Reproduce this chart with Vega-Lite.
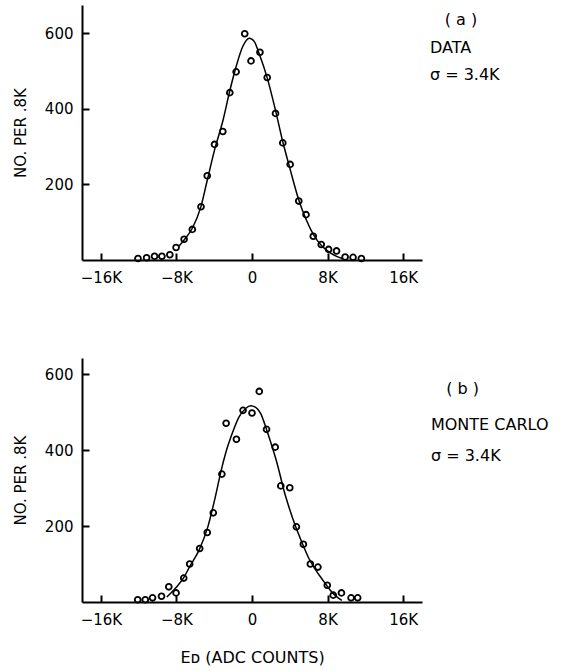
{
  "$schema": "https://vega.github.io/schema/vega-lite/v6.json",
  "background": "white",
  "padding": {"left": 13, "top": 5, "right": 2, "bottom": 5},
  "bounds": "flush",
  "spacing": 98,
  "config": {
    "font": "DejaVu Sans",
    "view": {"stroke": null},
    "axis": {
      "grid": false,
      "domainColor": "black",
      "domainWidth": 2,
      "tickColor": "black",
      "tickWidth": 2,
      "tickSize": -7,
      "labelColor": "black",
      "labelFontSize": 15,
      "labelFont": "DejaVu Sans",
      "titleColor": "black",
      "titleFontSize": 15,
      "titleFont": "DejaVu Sans",
      "titleFontWeight": "normal",
      "labelFlush": false,
      "labelOverlap": false
    },
    "axisX": {"labelPadding": 17},
    "axisY": {"labelPadding": 16, "titlePadding": 16}
  },
  "datasets": {
    "a_pts": [
      {"x": -12070, "y": 4}, {"x": -11160, "y": 6}, {"x": -10320, "y": 10}, {"x": -9540, "y": 10},
      {"x": -8700, "y": 14}, {"x": -8040, "y": 33}, {"x": -7190, "y": 55}, {"x": -6320, "y": 81},
      {"x": -5400, "y": 141}, {"x": -4740, "y": 223}, {"x": -3970, "y": 306}, {"x": -3090, "y": 340},
      {"x": -2350, "y": 443}, {"x": -1680, "y": 498}, {"x": -770, "y": 599}, {"x": -105, "y": 527},
      {"x": 840, "y": 550}, {"x": 1610, "y": 483}, {"x": 2490, "y": 388}, {"x": 3260, "y": 310},
      {"x": 4040, "y": 253}, {"x": 4950, "y": 156}, {"x": 5720, "y": 120}, {"x": 6490, "y": 63},
      {"x": 7330, "y": 41}, {"x": 8110, "y": 28}, {"x": 8950, "y": 24}, {"x": 9860, "y": 8},
      {"x": 10700, "y": 7}, {"x": 11580, "y": 4}
    ],
    "a_fit": [
      {"x": -7720, "y": 37}, {"x": -7190, "y": 53}, {"x": -6320, "y": 84}, {"x": -5400, "y": 142},
      {"x": -4740, "y": 211}, {"x": -3970, "y": 291}, {"x": -3090, "y": 368}, {"x": -2350, "y": 448},
      {"x": -1680, "y": 512}, {"x": -980, "y": 565}, {"x": -280, "y": 587}, {"x": 250, "y": 578},
      {"x": 770, "y": 545}, {"x": 1610, "y": 482}, {"x": 2490, "y": 396}, {"x": 3260, "y": 313},
      {"x": 4040, "y": 240}, {"x": 4950, "y": 159}, {"x": 5720, "y": 108}, {"x": 6490, "y": 68},
      {"x": 7330, "y": 39}, {"x": 8110, "y": 22}, {"x": 9020, "y": 9}, {"x": 9540, "y": 4}
    ],
    "a_txt": [
      {"x": 20400, "y": 635, "t": "( a )"},
      {"x": 18840, "y": 561, "t": "DATA"},
      {"x": 18840, "y": 490, "t": "σ = 3.4K"}
    ],
    "b_pts": [
      {"x": -12100, "y": 6}, {"x": -11300, "y": 6}, {"x": -10530, "y": 11}, {"x": -9580, "y": 15},
      {"x": -8810, "y": 40}, {"x": -8040, "y": 24}, {"x": -7230, "y": 63}, {"x": -6600, "y": 100},
      {"x": -5540, "y": 141}, {"x": -4740, "y": 183}, {"x": -4100, "y": 235}, {"x": -3190, "y": 337},
      {"x": -2740, "y": 471}, {"x": -1650, "y": 429}, {"x": -950, "y": 505}, {"x": 0, "y": 498},
      {"x": 770, "y": 555}, {"x": 1540, "y": 455}, {"x": 2460, "y": 408}, {"x": 3050, "y": 306},
      {"x": 4000, "y": 301}, {"x": 4700, "y": 198}, {"x": 5440, "y": 152}, {"x": 6180, "y": 100},
      {"x": 6980, "y": 92}, {"x": 7970, "y": 44}, {"x": 8600, "y": 18}, {"x": 9470, "y": 24},
      {"x": 10490, "y": 11}, {"x": 11190, "y": 11}
    ],
    "b_fit": [
      {"x": -9020, "y": 13}, {"x": -8040, "y": 38}, {"x": -7230, "y": 64}, {"x": -6630, "y": 92},
      {"x": -5580, "y": 138}, {"x": -4700, "y": 196}, {"x": -3820, "y": 284}, {"x": -3300, "y": 343},
      {"x": -2770, "y": 394}, {"x": -2070, "y": 446}, {"x": -1370, "y": 488}, {"x": -670, "y": 510},
      {"x": -140, "y": 517}, {"x": 390, "y": 513}, {"x": 910, "y": 497}, {"x": 1440, "y": 462},
      {"x": 1970, "y": 422}, {"x": 2490, "y": 380}, {"x": 2840, "y": 348}, {"x": 3370, "y": 295},
      {"x": 3900, "y": 251}, {"x": 4600, "y": 200}, {"x": 5300, "y": 156}, {"x": 6000, "y": 116},
      {"x": 6700, "y": 86}, {"x": 7580, "y": 55}, {"x": 8460, "y": 26}, {"x": 9510, "y": 4}
    ],
    "b_txt": [
      {"x": 20560, "y": 561, "t": "( b )"},
      {"x": 18950, "y": 466, "t": "MONTE CARLO"},
      {"x": 18950, "y": 384, "t": "σ = 3.4K"}
    ]
  },
  "vconcat": [
    {
      "width": 340,
      "height": 255,
      "encoding": {
        "x": {
          "field": "x", "type": "quantitative",
          "scale": {"domain": [-18000, 18000], "nice": false},
          "axis": {
            "title": null,
            "values": [-16000, -8000, 0, 8000, 16000],
            "labelExpr": "datum.value == 0 ? '0' : (datum.value < 0 ? '−' : '') + abs(datum.value) / 1000 + 'K'"
          }
        },
        "y": {
          "field": "y", "type": "quantitative",
          "scale": {"domain": [0, 675], "nice": false},
          "axis": {"title": "NO.  PER  .8K", "values": [200, 400, 600]}
        }
      },
      "layer": [
        {
          "data": {"name": "a_fit"},
          "mark": {"type": "line", "color": "black", "strokeWidth": 1.5, "interpolate": "monotone"}
        },
        {
          "data": {"name": "a_pts"},
          "mark": {"type": "point", "shape": "circle", "filled": false, "color": "black", "strokeWidth": 1.8, "size": 34, "opacity": 1}
        },
        {
          "data": {"name": "a_txt"},
          "mark": {"type": "text", "align": "left", "baseline": "middle", "fontSize": 16, "color": "black", "font": "DejaVu Sans"},
          "encoding": {"text": {"field": "t"}}
        }
      ]
    },
    {
      "width": 340,
      "height": 244,
      "encoding": {
        "x": {
          "field": "x", "type": "quantitative",
          "scale": {"domain": [-18000, 18000], "nice": false},
          "axis": {
            "title": "Eᴅ (ADC COUNTS)",
            "titleFontSize": 16,
            "titlePadding": 22,
            "values": [-16000, -8000, 0, 8000, 16000],
            "labelExpr": "datum.value == 0 ? '0' : (datum.value < 0 ? '−' : '') + abs(datum.value) / 1000 + 'K'"
          }
        },
        "y": {
          "field": "y", "type": "quantitative",
          "scale": {"domain": [0, 643], "nice": false},
          "axis": {"title": "NO.  PER  .8K", "values": [200, 400, 600]}
        }
      },
      "layer": [
        {
          "data": {"name": "b_fit"},
          "mark": {"type": "line", "color": "black", "strokeWidth": 1.5, "interpolate": "monotone"}
        },
        {
          "data": {"name": "b_pts"},
          "mark": {"type": "point", "shape": "circle", "filled": false, "color": "black", "strokeWidth": 1.8, "size": 34, "opacity": 1}
        },
        {
          "data": {"name": "b_txt"},
          "mark": {"type": "text", "align": "left", "baseline": "middle", "fontSize": 16, "color": "black", "font": "DejaVu Sans"},
          "encoding": {"text": {"field": "t"}}
        }
      ]
    }
  ]
}
